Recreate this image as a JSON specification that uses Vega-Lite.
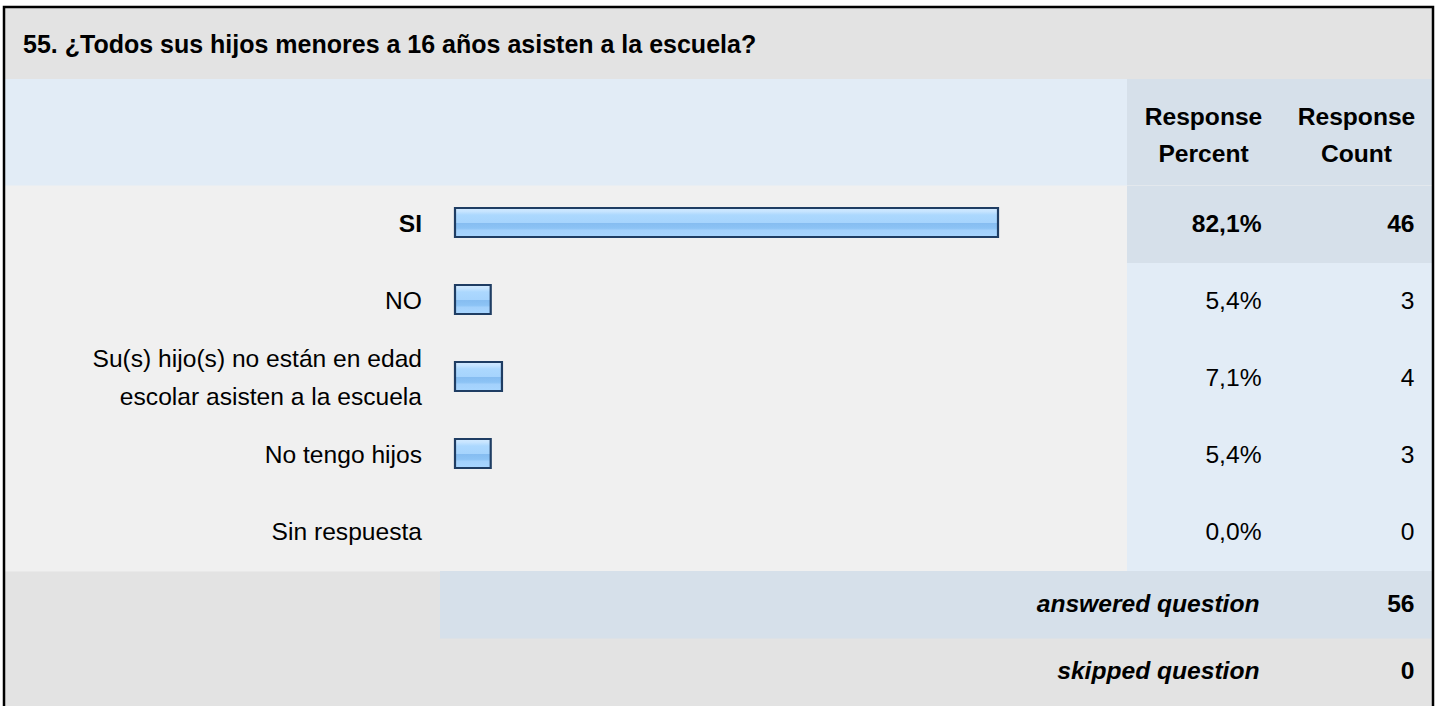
{
  "$schema": "https://vega.github.io/schema/vega-lite/v6.json",
  "width": 1429,
  "height": 699,
  "autosize": {"type": "none"},
  "padding": {"left": 4, "top": 7, "right": 7, "bottom": 0},
  "background": "#ffffff",
  "view": {"fill": "#e3e3e3", "stroke": null},
  "config": {
    "locale": {"number": {"decimal": ",", "thousands": ".", "grouping": [3], "currency": ["", " €"]}},
    "text": {"font": "Liberation Sans, Arial, Helvetica, sans-serif", "color": "#000000"}
  },
  "datasets": {
    "question": [{"question": "55. ¿Todos sus hijos menores a 16 años asisten a la escuela?"}],
    "header": [{"column": "Response Percent"}, {"column": "Response Count"}],
    "answers": [
      {"answer": "SI", "Response Percent": 0.821, "Response Count": 46},
      {"answer": "NO", "Response Percent": 0.054, "Response Count": 3},
      {"answer": "Su(s) hijo(s) no están en edad\nescolar asisten a la escuela", "Response Percent": 0.071, "Response Count": 4},
      {"answer": "No tengo hijos", "Response Percent": 0.054, "Response Count": 3},
      {"answer": "Sin respuesta", "Response Percent": 0.0, "Response Count": 0}
    ],
    "totals": [
      {"total": "answered question", "n": 56},
      {"total": "skipped question", "n": 0}
    ]
  },
  "layer": [
    {
      "data": {"name": "question"},
      "mark": {"type": "rect", "color": "#e2ecf6"},
      "encoding": {
        "x": {"datum": -0.6819, "type": "quantitative", "scale": {"type": "linear", "domain": [-0.6819, 1.4787], "nice": false, "zero": false}, "axis": null},
        "x2": {"datum": 1.4787},
        "y": {"datum": "header", "type": "nominal", "scale": {"type": "band", "domain": ["header"], "range": [72, 179], "paddingInner": 0, "paddingOuter": 0}, "axis": null}
      }
    },
    {
      "data": {"name": "header"},
      "mark": {"type": "rect", "color": "#d6e0ea"},
      "encoding": {
        "x": {"field": "column", "type": "nominal", "scale": {"type": "band", "domain": ["Response Percent", "Response Count"], "range": [1123, 1429], "paddingInner": 0, "paddingOuter": 0}, "axis": null},
        "y": {"datum": "header", "type": "nominal", "scale": {"type": "band", "domain": ["header"], "range": [72, 179], "paddingInner": 0, "paddingOuter": 0}, "axis": null}
      }
    },
    {
      "data": {"name": "answers"},
      "mark": {"type": "rect", "color": "#f0f0f0", "stroke": "#f0f0f0", "strokeWidth": 1},
      "encoding": {
        "x": {"datum": -0.6819, "type": "quantitative", "scale": {"type": "linear", "domain": [-0.6819, 1.4787], "nice": false, "zero": false}, "axis": null},
        "x2": {"datum": 1.4787},
        "y": {"field": "answer", "type": "nominal", "sort": null, "scale": {"type": "band", "range": [179, 564], "paddingInner": 0, "paddingOuter": 0}, "axis": null}
      }
    },
    {
      "data": {"name": "answers"},
      "transform": [
        {"joinaggregate": [{"op": "max", "field": "Response Percent", "as": "maxPercent"}]},
        {"fold": ["Response Percent", "Response Count"], "as": ["column", "value"]}
      ],
      "mark": {"type": "rect"},
      "encoding": {
        "x": {"field": "column", "type": "nominal", "scale": {"type": "band", "domain": ["Response Percent", "Response Count"], "range": [1123, 1429], "paddingInner": 0, "paddingOuter": 0}, "axis": null},
        "y": {"field": "answer", "type": "nominal", "sort": null, "scale": {"type": "band", "range": [179, 564], "paddingInner": 0, "paddingOuter": 0}, "axis": null},
        "color": {"condition": {"test": "datum['Response Percent'] === datum.maxPercent", "value": "#d6e0ea"}, "value": "#e2ecf6"}
      }
    },
    {
      "data": {"name": "totals"},
      "transform": [{"filter": "datum.total === 'answered question'"}],
      "mark": {"type": "rect", "color": "#d6e0ea"},
      "encoding": {
        "x": {"datum": -0.0227, "type": "quantitative", "scale": {"type": "linear", "domain": [-0.6819, 1.4787], "nice": false, "zero": false}, "axis": null},
        "x2": {"datum": 1.4787},
        "y": {"field": "total", "type": "nominal", "sort": null, "scale": {"type": "band", "domain": ["answered question", "skipped question"], "range": [564, 699], "paddingInner": 0, "paddingOuter": 0}, "axis": null}
      }
    },
    {
      "data": {"name": "answers"},
      "transform": [{"filter": "datum['Response Percent'] > 0"}],
      "mark": {
        "type": "bar",
        "height": 29,
        "yOffset": -2,
        "stroke": "#1f3d63",
        "strokeWidth": 2.2,
        "fill": {
          "gradient": "linear", "x1": 0, "y1": 0, "x2": 0, "y2": 1,
          "stops": [
            {"offset": 0, "color": "#d3eaff"},
            {"offset": 0.12, "color": "#c6e4ff"},
            {"offset": 0.24, "color": "#acd8fe"},
            {"offset": 0.5, "color": "#a6d4fd"},
            {"offset": 0.53, "color": "#86bdf1"},
            {"offset": 0.7, "color": "#8cc3f5"},
            {"offset": 0.77, "color": "#a3d1fc"},
            {"offset": 1, "color": "#a8d6ff"}
          ]
        }
      },
      "encoding": {
        "x": {"field": "Response Percent", "type": "quantitative", "scale": {"type": "linear", "domain": [-0.6819, 1.4787], "nice": false, "zero": false}, "axis": null},
        "x2": {"datum": 0},
        "y": {"field": "answer", "type": "nominal", "sort": null, "scale": {"type": "band", "domain": ["SI", "NO", "Su(s) hijo(s) no están en edad\nescolar asisten a la escuela", "No tengo hijos", "Sin respuesta"], "range": [179, 564], "paddingInner": 0, "paddingOuter": 0}, "axis": null}
      }
    },
    {
      "data": {"name": "answers"},
      "transform": [{"joinaggregate": [{"op": "max", "field": "Response Percent", "as": "maxPercent"}]}],
      "mark": {
        "type": "text", "align": "right", "baseline": "middle", "dx": -33, "fontSize": 24.6, "lineBreak": "\n", "lineHeight": 38,
        "dy": {"expr": "-(length(split(datum.answer, '\\n')) - 1) * 19"},
        "fontWeight": {"expr": "datum['Response Percent'] === datum.maxPercent ? 'bold' : 'normal'"}
      },
      "encoding": {
        "text": {"field": "answer"},
        "x": {"datum": 0, "type": "quantitative", "scale": {"type": "linear", "domain": [-0.6819, 1.4787], "nice": false, "zero": false}, "axis": null},
        "y": {"field": "answer", "type": "nominal", "sort": null, "scale": {"type": "band", "range": [179, 564], "paddingInner": 0, "paddingOuter": 0}, "axis": null}
      }
    },
    {
      "data": {"name": "answers"},
      "transform": [{"joinaggregate": [{"op": "max", "field": "Response Percent", "as": "maxPercent"}]}],
      "mark": {
        "type": "text", "align": "right", "baseline": "middle", "dx": 58, "fontSize": 24.6,
        "fontWeight": {"expr": "datum['Response Percent'] === datum.maxPercent ? 'bold' : 'normal'"}
      },
      "encoding": {
        "text": {"field": "Response Percent", "type": "quantitative", "format": ".1%"},
        "x": {"datum": "Response Percent", "type": "nominal", "scale": {"type": "band", "domain": ["Response Percent", "Response Count"], "range": [1123, 1429], "paddingInner": 0, "paddingOuter": 0}, "axis": null},
        "y": {"field": "answer", "type": "nominal", "sort": null, "scale": {"type": "band", "range": [179, 564], "paddingInner": 0, "paddingOuter": 0}, "axis": null}
      }
    },
    {
      "data": {"name": "answers"},
      "transform": [{"joinaggregate": [{"op": "max", "field": "Response Percent", "as": "maxPercent"}]}],
      "mark": {
        "type": "text", "align": "right", "baseline": "middle", "dx": 58, "fontSize": 24.6,
        "fontWeight": {"expr": "datum['Response Percent'] === datum.maxPercent ? 'bold' : 'normal'"}
      },
      "encoding": {
        "text": {"field": "Response Count", "type": "quantitative", "format": "d"},
        "x": {"datum": "Response Count", "type": "nominal", "scale": {"type": "band", "domain": ["Response Percent", "Response Count"], "range": [1123, 1429], "paddingInner": 0, "paddingOuter": 0}, "axis": null},
        "y": {"field": "answer", "type": "nominal", "sort": null, "scale": {"type": "band", "range": [179, 564], "paddingInner": 0, "paddingOuter": 0}, "axis": null}
      }
    },
    {
      "data": {"name": "header"},
      "mark": {"type": "text", "align": "center", "baseline": "middle", "dy": -15, "fontSize": 24.6, "fontWeight": "bold", "lineBreak": " ", "lineHeight": 37},
      "encoding": {
        "text": {"field": "column"},
        "x": {"field": "column", "type": "nominal", "scale": {"type": "band", "domain": ["Response Percent", "Response Count"], "range": [1123, 1429], "paddingInner": 0, "paddingOuter": 0}, "axis": null},
        "y": {"datum": "header", "type": "nominal", "scale": {"type": "band", "domain": ["header"], "range": [72, 179], "paddingInner": 0, "paddingOuter": 0}, "axis": null}
      }
    },
    {
      "data": {"name": "question"},
      "mark": {"type": "text", "align": "left", "baseline": "middle", "dx": 19, "dy": 2, "fontSize": 25, "fontWeight": "bold"},
      "encoding": {
        "text": {"field": "question"},
        "x": {"datum": -0.6819, "type": "quantitative", "scale": {"type": "linear", "domain": [-0.6819, 1.4787], "nice": false, "zero": false}, "axis": null},
        "y": {"field": "question", "type": "nominal", "scale": {"type": "band", "range": [0, 72], "paddingInner": 0, "paddingOuter": 0}, "axis": null}
      }
    },
    {
      "data": {"name": "totals"},
      "mark": {"type": "text", "align": "right", "baseline": "middle", "dx": 56, "fontSize": 24.6, "fontWeight": "bold", "fontStyle": "italic"},
      "encoding": {
        "text": {"field": "total"},
        "x": {"datum": "Response Percent", "type": "nominal", "scale": {"type": "band", "domain": ["Response Percent", "Response Count"], "range": [1123, 1429], "paddingInner": 0, "paddingOuter": 0}, "axis": null},
        "y": {"field": "total", "type": "nominal", "sort": null, "scale": {"type": "band", "domain": ["answered question", "skipped question"], "range": [564, 699], "paddingInner": 0, "paddingOuter": 0}, "axis": null}
      }
    },
    {
      "data": {"name": "totals"},
      "mark": {"type": "text", "align": "right", "baseline": "middle", "dx": 58, "fontSize": 24.6, "fontWeight": "bold"},
      "encoding": {
        "text": {"field": "n", "type": "quantitative", "format": "d"},
        "x": {"datum": "Response Count", "type": "nominal", "scale": {"type": "band", "domain": ["Response Percent", "Response Count"], "range": [1123, 1429], "paddingInner": 0, "paddingOuter": 0}, "axis": null},
        "y": {"field": "total", "type": "nominal", "sort": null, "scale": {"type": "band", "domain": ["answered question", "skipped question"], "range": [564, 699], "paddingInner": 0, "paddingOuter": 0}, "axis": null}
      }
    },
    {
      "data": {"name": "question"},
      "mark": {"type": "rect", "filled": false, "stroke": "#000000", "strokeWidth": 2.5},
      "encoding": {
        "x": {"datum": -0.6819, "type": "quantitative", "scale": {"type": "linear", "domain": [-0.6819, 1.4787], "nice": false, "zero": false}, "axis": null},
        "x2": {"datum": 1.4787},
        "y": {"field": "question", "type": "nominal", "scale": {"type": "band", "range": [0, 712], "paddingInner": 0, "paddingOuter": 0}, "axis": null}
      }
    }
  ],
  "resolve": {"scale": {"x": "independent", "y": "independent"}}
}
